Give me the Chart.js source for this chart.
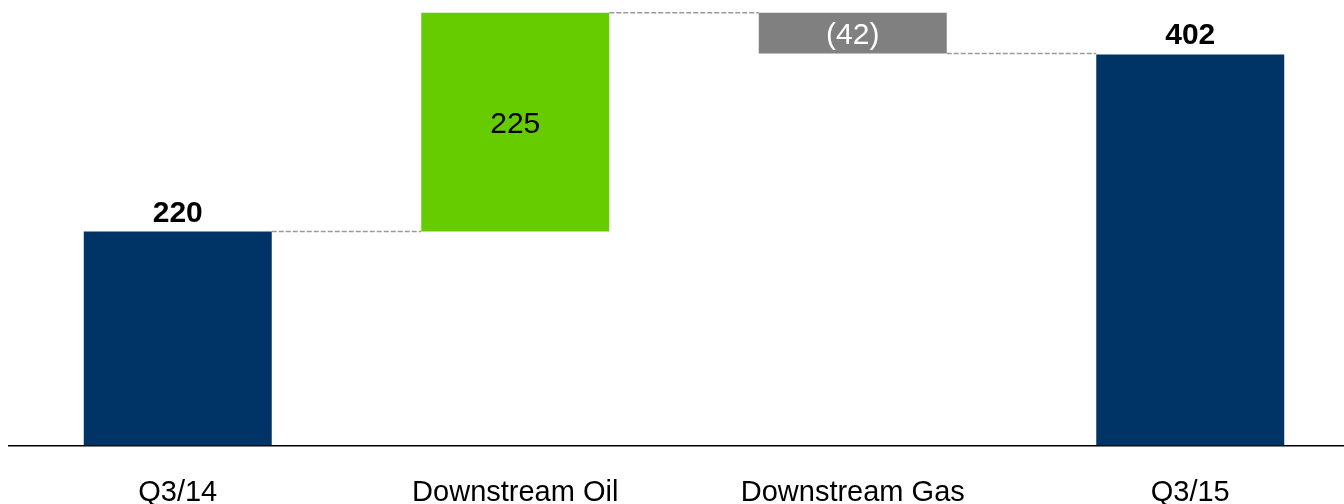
<!DOCTYPE html>
<html>
<head>
<meta charset="utf-8">
<script src="https://cdn.jsdelivr.net/npm/chart.js@4"></script>
<style>
    html, body { margin: 0; padding: 0; background: #fff; overflow: hidden; }
    #wrap { width: 1360px; height: 504px; }
</style>
</head>
<body>
<div id="wrap"><canvas id="bridge"></canvas></div>
<script>
const categories = ['Q3/14', 'Downstream Oil', 'Downstream Gas', 'Q3/15'];
const startValue = 220;
const changes = [225, -42];
const endValue = 402;
const changeLabels = ['225', '(42)'];
const barColors = ['#003366', '#66CC00', '#808080', '#003366'];

const FONT = '"Liberation Sans", Arial, sans-serif';

// build floating ranges for the bridge
const ranges = [[0, startValue]];
let level = startValue;
changes.forEach(c => {
    ranges.push([level, level + c]);
    level += c;
});
ranges.push([0, endValue]);

const valueLabels = [String(startValue), ...changeLabels, String(endValue)];

const bridgePlugin = {
    id: 'bridge',
    afterDatasetsDraw(chart) {
        const ctx = chart.ctx;
        const meta = chart.getDatasetMeta(0);
        const y = chart.scales.y;

        // dashed connectors from each bar's end to the next bar
        ctx.save();
        ctx.strokeStyle = '#9a9a9a';
        ctx.lineWidth = 1.5;
        ctx.setLineDash([5, 2]);
        for (let i = 0; i < meta.data.length - 1; i++) {
            const a = meta.data[i], b = meta.data[i + 1];
            const py = y.getPixelForValue(ranges[i][1]);
            ctx.beginPath();
            ctx.moveTo(a.x + a.width / 2, py);
            ctx.lineTo(b.x - b.width / 2, py);
            ctx.stroke();
        }
        ctx.restore();

        // value labels: totals above, changes inside
        ctx.save();
        ctx.textAlign = 'center';
        ctx.textBaseline = 'alphabetic';
        meta.data.forEach((bar, i) => {
            const total = i === 0 || i === meta.data.length - 1;
            if (total) {
                ctx.font = 'bold 30px ' + FONT;
                ctx.fillStyle = '#000';
                ctx.fillText(valueLabels[i], bar.x, y.getPixelForValue(ranges[i][1]) - 10);
            } else {
                ctx.font = '30px ' + FONT;
                ctx.fillStyle = changes[i - 1] < 0 ? '#ffffff' : '#000000';
                const mid = (ranges[i][0] + ranges[i][1]) / 2;
                ctx.fillText(valueLabels[i], bar.x, y.getPixelForValue(mid) + 11);
            }
        });
        ctx.restore();
    }
};

new Chart(document.getElementById('bridge'), {
    type: 'bar',
    data: {
        labels: categories,
        datasets: [{
            data: ranges,
            backgroundColor: barColors,
            borderWidth: 0,
            borderSkipped: false,
            barPercentage: 0.557,
            categoryPercentage: 1
        }]
    },
    options: {
        responsive: true,
        maintainAspectRatio: false,
        animation: false,
        layout: { padding: { left: 9, right: 1, top: 0, bottom: 0 } },
        plugins: {
            legend: { display: false },
            tooltip: { enabled: false }
        },
        scales: {
            x: {
                grid: { display: false },
                border: { display: true, color: '#000000', width: 1.5 },
                ticks: {
                    color: '#000000',
                    padding: 22,
                    font: { family: FONT, size: 29 }
                },
                // keep the axis band a fixed height so the plot reaches down to the baseline
                afterFit(scale) {
                    scale.height = 58.5;
                }
            },
            y: {
                display: false,
                min: 0,
                max: 458
            }
        }
    },
    plugins: [bridgePlugin]
});
</script>
</body>
</html>
